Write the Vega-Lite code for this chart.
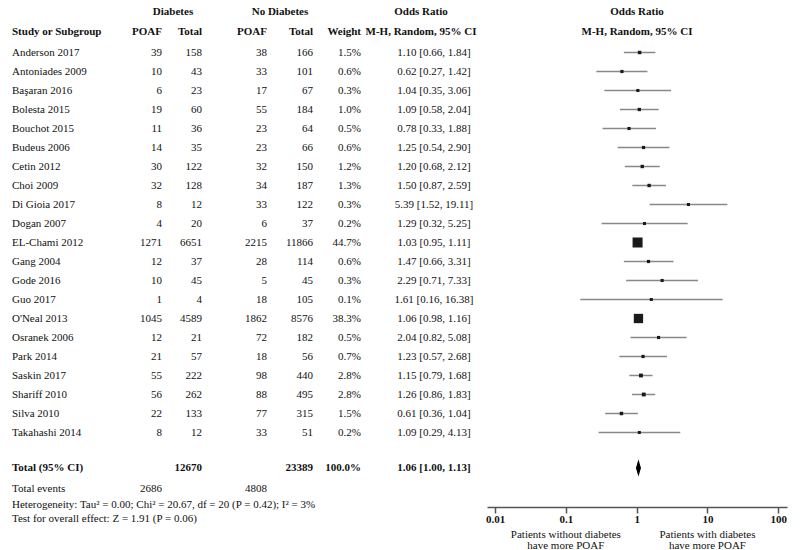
{
  "$schema": "https://vega.github.io/schema/vega-lite/v6.json",
  "width": 800,
  "height": 550,
  "autosize": {"type": "none"},
  "padding": 0,
  "background": "white",
  "config": {
    "view": {"stroke": null},
    "text": {"font": "Liberation Serif", "fontSize": 11, "fill": "#111"}
  },
  "datasets": {
    "studies": [
      {"line": 2, "study": "Anderson 2017", "d_ev": 39, "d_tot": 158, "n_ev": 38, "n_tot": 166, "weight": 0.015, "or": 1.10, "lo": 0.66, "hi": 1.84, "ci": "1.10 [0.66, 1.84]"},
      {"line": 3, "study": "Antoniades 2009", "d_ev": 10, "d_tot": 43, "n_ev": 33, "n_tot": 101, "weight": 0.006, "or": 0.62, "lo": 0.27, "hi": 1.42, "ci": "0.62 [0.27, 1.42]"},
      {"line": 4, "study": "Başaran 2016", "d_ev": 6, "d_tot": 23, "n_ev": 17, "n_tot": 67, "weight": 0.003, "or": 1.04, "lo": 0.35, "hi": 3.06, "ci": "1.04 [0.35, 3.06]"},
      {"line": 5, "study": "Bolesta 2015", "d_ev": 19, "d_tot": 60, "n_ev": 55, "n_tot": 184, "weight": 0.010, "or": 1.09, "lo": 0.58, "hi": 2.04, "ci": "1.09 [0.58, 2.04]"},
      {"line": 6, "study": "Bouchot 2015", "d_ev": 11, "d_tot": 36, "n_ev": 23, "n_tot": 64, "weight": 0.005, "or": 0.78, "lo": 0.33, "hi": 1.88, "ci": "0.78 [0.33, 1.88]"},
      {"line": 7, "study": "Budeus 2006", "d_ev": 14, "d_tot": 35, "n_ev": 23, "n_tot": 66, "weight": 0.006, "or": 1.25, "lo": 0.54, "hi": 2.90, "ci": "1.25 [0.54, 2.90]"},
      {"line": 8, "study": "Cetin 2012", "d_ev": 30, "d_tot": 122, "n_ev": 32, "n_tot": 150, "weight": 0.012, "or": 1.20, "lo": 0.68, "hi": 2.12, "ci": "1.20 [0.68, 2.12]"},
      {"line": 9, "study": "Choi 2009", "d_ev": 32, "d_tot": 128, "n_ev": 34, "n_tot": 187, "weight": 0.013, "or": 1.50, "lo": 0.87, "hi": 2.59, "ci": "1.50 [0.87, 2.59]"},
      {"line": 10, "study": "Di Gioia 2017", "d_ev": 8, "d_tot": 12, "n_ev": 33, "n_tot": 122, "weight": 0.003, "or": 5.39, "lo": 1.52, "hi": 19.11, "ci": "5.39 [1.52, 19.11]"},
      {"line": 11, "study": "Dogan 2007", "d_ev": 4, "d_tot": 20, "n_ev": 6, "n_tot": 37, "weight": 0.002, "or": 1.29, "lo": 0.32, "hi": 5.25, "ci": "1.29 [0.32, 5.25]"},
      {"line": 12, "study": "EL-Chami 2012", "d_ev": 1271, "d_tot": 6651, "n_ev": 2215, "n_tot": 11866, "weight": 0.447, "or": 1.03, "lo": 0.95, "hi": 1.11, "ci": "1.03 [0.95, 1.11]"},
      {"line": 13, "study": "Gang 2004", "d_ev": 12, "d_tot": 37, "n_ev": 28, "n_tot": 114, "weight": 0.006, "or": 1.47, "lo": 0.66, "hi": 3.31, "ci": "1.47 [0.66, 3.31]"},
      {"line": 14, "study": "Gode 2016", "d_ev": 10, "d_tot": 45, "n_ev": 5, "n_tot": 45, "weight": 0.003, "or": 2.29, "lo": 0.71, "hi": 7.33, "ci": "2.29 [0.71, 7.33]"},
      {"line": 15, "study": "Guo 2017", "d_ev": 1, "d_tot": 4, "n_ev": 18, "n_tot": 105, "weight": 0.001, "or": 1.61, "lo": 0.16, "hi": 16.38, "ci": "1.61 [0.16, 16.38]"},
      {"line": 16, "study": "O'Neal 2013", "d_ev": 1045, "d_tot": 4589, "n_ev": 1862, "n_tot": 8576, "weight": 0.383, "or": 1.06, "lo": 0.98, "hi": 1.16, "ci": "1.06 [0.98, 1.16]"},
      {"line": 17, "study": "Osranek 2006", "d_ev": 12, "d_tot": 21, "n_ev": 72, "n_tot": 182, "weight": 0.005, "or": 2.04, "lo": 0.82, "hi": 5.08, "ci": "2.04 [0.82, 5.08]"},
      {"line": 18, "study": "Park 2014", "d_ev": 21, "d_tot": 57, "n_ev": 18, "n_tot": 56, "weight": 0.007, "or": 1.23, "lo": 0.57, "hi": 2.68, "ci": "1.23 [0.57, 2.68]"},
      {"line": 19, "study": "Saskin 2017", "d_ev": 55, "d_tot": 222, "n_ev": 98, "n_tot": 440, "weight": 0.028, "or": 1.15, "lo": 0.79, "hi": 1.68, "ci": "1.15 [0.79, 1.68]"},
      {"line": 20, "study": "Shariff 2010", "d_ev": 56, "d_tot": 262, "n_ev": 88, "n_tot": 495, "weight": 0.028, "or": 1.26, "lo": 0.86, "hi": 1.83, "ci": "1.26 [0.86, 1.83]"},
      {"line": 21, "study": "Silva 2010", "d_ev": 22, "d_tot": 133, "n_ev": 77, "n_tot": 315, "weight": 0.015, "or": 0.61, "lo": 0.36, "hi": 1.04, "ci": "0.61 [0.36, 1.04]"},
      {"line": 22, "study": "Takahashi 2014", "d_ev": 8, "d_tot": 12, "n_ev": 33, "n_tot": 51, "weight": 0.002, "or": 1.09, "lo": 0.29, "hi": 4.13, "ci": "1.09 [0.29, 4.13]"}
    ],
    "cells": [
      {"line": 0, "col": 2, "part": "head", "text": "Diabetes"},
      {"line": 0, "col": 5, "part": "head", "text": "No Diabetes"},
      {"line": 0, "col": 8, "part": "head", "text": "Odds Ratio"},
      {"line": 0, "col": 10, "part": "head", "text": "Odds Ratio"},
      {"line": 1, "col": 0, "part": "head", "text": "Study or Subgroup"},
      {"line": 1, "col": 1, "part": "head", "text": "POAF"},
      {"line": 1, "col": 3, "part": "head", "text": "Total"},
      {"line": 1, "col": 4, "part": "head", "text": "POAF"},
      {"line": 1, "col": 6, "part": "head", "text": "Total"},
      {"line": 1, "col": 7, "part": "head", "text": "Weight"},
      {"line": 1, "col": 8, "part": "head", "text": "M-H, Random, 95% CI"},
      {"line": 1, "col": 10, "part": "head", "text": "M-H, Random, 95% CI"},
      {"line": 23, "col": 0, "part": "total", "text": "Total (95% CI)"},
      {"line": 23, "col": 3, "part": "total", "text": "12670"},
      {"line": 23, "col": 6, "part": "total", "text": "23389"},
      {"line": 23, "col": 7, "part": "total", "text": "100.0%"},
      {"line": 23, "col": 9, "part": "total", "text": "1.06 [1.00, 1.13]"},
      {"line": 24, "col": 0, "part": "foot", "text": "Total events"},
      {"line": 24, "col": 1, "part": "foot", "text": "2686"},
      {"line": 24, "col": 4, "part": "foot", "text": "4808"},
      {"line": 25, "col": 0, "part": "foot", "text": "Heterogeneity: Tau² = 0.00; Chi² = 20.67, df = 20 (P = 0.42); I² = 3%"},
      {"line": 26, "col": 0, "part": "foot", "text": "Test for overall effect: Z = 1.91 (P = 0.06)"}
    ],
    "pooled": [{"line": 23, "or": 1.06, "lo": 1.00, "hi": 1.13}],
    "ticks": [{"t": 0.01}, {"t": 0.1}, {"t": 1}, {"t": 10}, {"t": 100}],
    "captions": [
      {"line": 27, "x": 0.1, "label": ["Patients without diabetes", "have more POAF"]},
      {"line": 27, "x": 10, "label": ["Patients with diabetes", "have more POAF"]}
    ]
  },
  "encoding": {
    "y": {
      "field": "line",
      "type": "quantitative",
      "axis": null,
      "scale": {
        "domain": [0, 1, 2, 22, 23, 24, 25, 26],
        "range": [12, 32, 52.5, 432.5, 468, 489, 505, 519],
        "zero": false,
        "nice": false
      }
    }
  },
  "resolve": {"scale": {"x": "independent"}, "axis": {"x": "independent"}},
  "layer": [
    {
      "layer": [
        {
          "data": {"name": "studies"},
          "mark": {"type": "text", "align": "left"},
          "encoding": {
            "x": {"datum": 0, "type": "quantitative", "axis": null,
              "scale": {"domain": [0, 1, 2, 3, 4, 5, 6, 7, 8, 9, 10], "range": [12, 162, 173, 202, 267, 280, 313, 361, 421, 434, 637], "zero": false, "nice": false}},
            "text": {"field": "study"}
          }
        },
        {
          "data": {"name": "studies"},
          "mark": {"type": "text", "align": "right"},
          "encoding": {"x": {"datum": 1, "type": "quantitative", "axis": null}, "text": {"field": "d_ev"}}
        },
        {
          "data": {"name": "studies"},
          "mark": {"type": "text", "align": "right"},
          "encoding": {"x": {"datum": 3, "type": "quantitative", "axis": null}, "text": {"field": "d_tot"}}
        },
        {
          "data": {"name": "studies"},
          "mark": {"type": "text", "align": "right"},
          "encoding": {"x": {"datum": 4, "type": "quantitative", "axis": null}, "text": {"field": "n_ev"}}
        },
        {
          "data": {"name": "studies"},
          "mark": {"type": "text", "align": "right"},
          "encoding": {"x": {"datum": 6, "type": "quantitative", "axis": null}, "text": {"field": "n_tot"}}
        },
        {
          "data": {"name": "studies"},
          "mark": {"type": "text", "align": "right"},
          "encoding": {"x": {"datum": 7, "type": "quantitative", "axis": null}, "text": {"field": "weight", "type": "quantitative", "format": ".1%"}}
        },
        {
          "data": {"name": "studies"},
          "mark": {"type": "text", "align": "center"},
          "encoding": {"x": {"datum": 9, "type": "quantitative", "axis": null}, "text": {"field": "ci"}}
        },
        {
          "data": {"name": "cells"},
          "transform": [{"filter": "datum.col == 0 && datum.part != 'foot'"}],
          "mark": {"type": "text", "align": "left", "fontWeight": "bold"},
          "encoding": {"x": {"field": "col", "type": "quantitative", "axis": null}, "text": {"field": "text"}}
        },
        {
          "data": {"name": "cells"},
          "transform": [{"filter": "datum.col == 0 && datum.part == 'foot'"}],
          "mark": {"type": "text", "align": "left"},
          "encoding": {"x": {"field": "col", "type": "quantitative", "axis": null}, "text": {"field": "text"}}
        },
        {
          "data": {"name": "cells"},
          "transform": [{"filter": "indexof([1, 3, 4, 6, 7], datum.col) >= 0 && datum.part != 'foot'"}],
          "mark": {"type": "text", "align": "right", "fontWeight": "bold"},
          "encoding": {"x": {"field": "col", "type": "quantitative", "axis": null}, "text": {"field": "text"}}
        },
        {
          "data": {"name": "cells"},
          "transform": [{"filter": "indexof([1, 3, 4, 6, 7], datum.col) >= 0 && datum.part == 'foot'"}],
          "mark": {"type": "text", "align": "right"},
          "encoding": {"x": {"field": "col", "type": "quantitative", "axis": null}, "text": {"field": "text"}}
        },
        {
          "data": {"name": "cells"},
          "transform": [{"filter": "indexof([2, 5, 8, 9, 10], datum.col) >= 0"}],
          "mark": {"type": "text", "align": "center", "fontWeight": "bold"},
          "encoding": {"x": {"field": "col", "type": "quantitative", "axis": null}, "text": {"field": "text"}}
        }
      ]
    },
    {
      "layer": [
        {
          "data": {"values": [{}]},
          "mark": {"type": "rule", "color": "#6e6e6e", "strokeWidth": 1.5},
          "encoding": {"y": {"datum": 1.44}}
        },
        {
          "data": {"values": [{}]},
          "mark": {"type": "rule", "color": "#999", "strokeWidth": 1.5},
          "encoding": {
            "x": {"datum": 1, "type": "quantitative",
              "scale": {"type": "log", "domain": [0.0077, 132.8], "range": [487, 787], "nice": false},
              "axis": {
                "values": [0.01, 0.1, 1, 10, 100],
                "format": "~g",
                "offset": -43,
                "title": null,
                "grid": false,
                "tickSize": 6,
                "tickColor": "#555",
                "tickWidth": 1.5,
                "domainColor": "#555",
                "domainWidth": 1.5,
                "labelFont": "Liberation Serif",
                "labelFontSize": 11,
                "labelFontWeight": "bold",
                "labelColor": "#111",
                "labelPadding": 0
              }},
            "y": {"datum": 1.44},
            "y2": {"datum": 25.14}
          }
        },
        {
          "data": {"name": "ticks"},
          "mark": {"type": "rule", "color": "#555", "strokeWidth": 1.5},
          "encoding": {
            "x": {"field": "t", "type": "quantitative"},
            "y": {"datum": 24.75},
            "y2": {"datum": 25.14}
          }
        },
        {
          "data": {"name": "studies"},
          "mark": {"type": "rule", "color": "#888", "strokeWidth": 1.5},
          "encoding": {
            "x": {"field": "lo", "type": "quantitative"},
            "x2": {"field": "hi"}
          }
        },
        {
          "data": {"name": "studies"},
          "mark": {"type": "point", "shape": "square", "filled": true, "color": "#1a1a1a", "opacity": 1},
          "encoding": {
            "x": {"field": "or", "type": "quantitative"},
            "size": {"field": "weight", "type": "quantitative", "legend": null, "scale": {"domain": [0, 0.447], "range": [9, 100]}}
          }
        },
        {
          "data": {"name": "pooled"},
          "mark": {"type": "point", "shape": "M0,-1L0.3,0L0,1L-0.3,0Z", "filled": true, "color": "#000", "opacity": 1, "size": 289},
          "encoding": {
            "x": {"field": "or", "type": "quantitative"}
          }
        },
        {
          "data": {"name": "captions"},
          "mark": {"type": "text", "align": "center", "baseline": "middle", "dy": 1.5, "lineHeight": 11.5, "fontSize": 11},
          "encoding": {
            "x": {"field": "x", "type": "quantitative"},
            "text": {"field": "label"}
          }
        }
      ]
    }
  ]
}
